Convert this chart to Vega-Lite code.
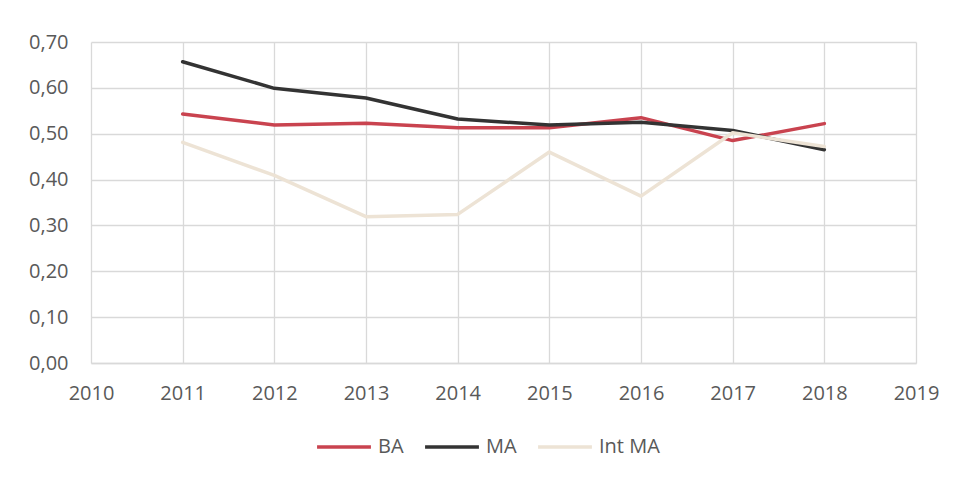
{
  "$schema": "https://vega.github.io/schema/vega-lite/v6.json",
  "width": 825,
  "height": 321,
  "autosize": "none",
  "padding": {"left": 91, "top": 42, "right": 40, "bottom": 114},
  "background": "white",
  "config": {
    "view": {"stroke": null},
    "font": "Open Sans"
  },
  "data": {
    "values": [
      {"year": 2011, "series": "BA", "value": 0.543},
      {"year": 2012, "series": "BA", "value": 0.519},
      {"year": 2013, "series": "BA", "value": 0.523},
      {"year": 2014, "series": "BA", "value": 0.513},
      {"year": 2015, "series": "BA", "value": 0.513},
      {"year": 2016, "series": "BA", "value": 0.535},
      {"year": 2017, "series": "BA", "value": 0.485},
      {"year": 2018, "series": "BA", "value": 0.522},
      {"year": 2011, "series": "MA", "value": 0.657},
      {"year": 2012, "series": "MA", "value": 0.599},
      {"year": 2013, "series": "MA", "value": 0.578},
      {"year": 2014, "series": "MA", "value": 0.532},
      {"year": 2015, "series": "MA", "value": 0.519},
      {"year": 2016, "series": "MA", "value": 0.525},
      {"year": 2017, "series": "MA", "value": 0.507},
      {"year": 2018, "series": "MA", "value": 0.465},
      {"year": 2011, "series": "Int MA", "value": 0.481},
      {"year": 2012, "series": "Int MA", "value": 0.409},
      {"year": 2013, "series": "Int MA", "value": 0.319},
      {"year": 2014, "series": "Int MA", "value": 0.324},
      {"year": 2015, "series": "Int MA", "value": 0.460},
      {"year": 2016, "series": "Int MA", "value": 0.364},
      {"year": 2017, "series": "Int MA", "value": 0.502},
      {"year": 2018, "series": "Int MA", "value": 0.472}
    ]
  },
  "mark": {"type": "line", "strokeWidth": 3.5, "strokeCap": "round", "strokeJoin": "round"},
  "encoding": {
    "x": {
      "field": "year",
      "type": "quantitative",
      "scale": {"domain": [2010, 2019], "nice": false, "zero": false},
      "axis": {
        "title": null,
        "values": [2010, 2011, 2012, 2013, 2014, 2015, 2016, 2017, 2018, 2019],
        "format": "d",
        "ticks": false,
        "domain": true,
        "domainColor": "#d9d9d9",
        "domainWidth": 1.3,
        "grid": true,
        "gridColor": "#d9d9d9",
        "gridWidth": 1.3,
        "labelFontSize": 20,
        "labelColor": "#595959",
        "labelPadding": 20,
        "labelFlush": false,
        "labelFont": "Open Sans"
      }
    },
    "y": {
      "field": "value",
      "type": "quantitative",
      "scale": {"domain": [0, 0.7], "nice": false},
      "axis": {
        "title": null,
        "values": [0, 0.1, 0.2, 0.3, 0.4, 0.5, 0.6, 0.7],
        "labelExpr": "replace(format(datum.value, '.2f'), '.', ',')",
        "ticks": false,
        "domain": false,
        "grid": true,
        "gridColor": "#d9d9d9",
        "gridWidth": 1.3,
        "labelFontSize": 20,
        "labelColor": "#595959",
        "labelPadding": 23,
        "labelFlush": false,
        "labelFont": "Open Sans"
      }
    },
    "color": {
      "field": "series",
      "type": "nominal",
      "sort": ["BA", "MA", "Int MA"],
      "scale": {"domain": ["BA", "MA", "Int MA"], "range": ["#c9434f", "#333333", "#ede3d5"]},
      "legend": {
        "title": null,
        "orient": "none",
        "direction": "horizontal",
        "legendX": 224,
        "legendY": 376,
        "symbolType": "stroke",
        "symbolSize": 2900,
        "symbolStrokeWidth": 3.5,
        "labelFontSize": 20,
        "labelColor": "#595959",
        "labelFont": "Open Sans",
        "labelOffset": 5,
        "columnPadding": 14
      }
    }
  }
}
